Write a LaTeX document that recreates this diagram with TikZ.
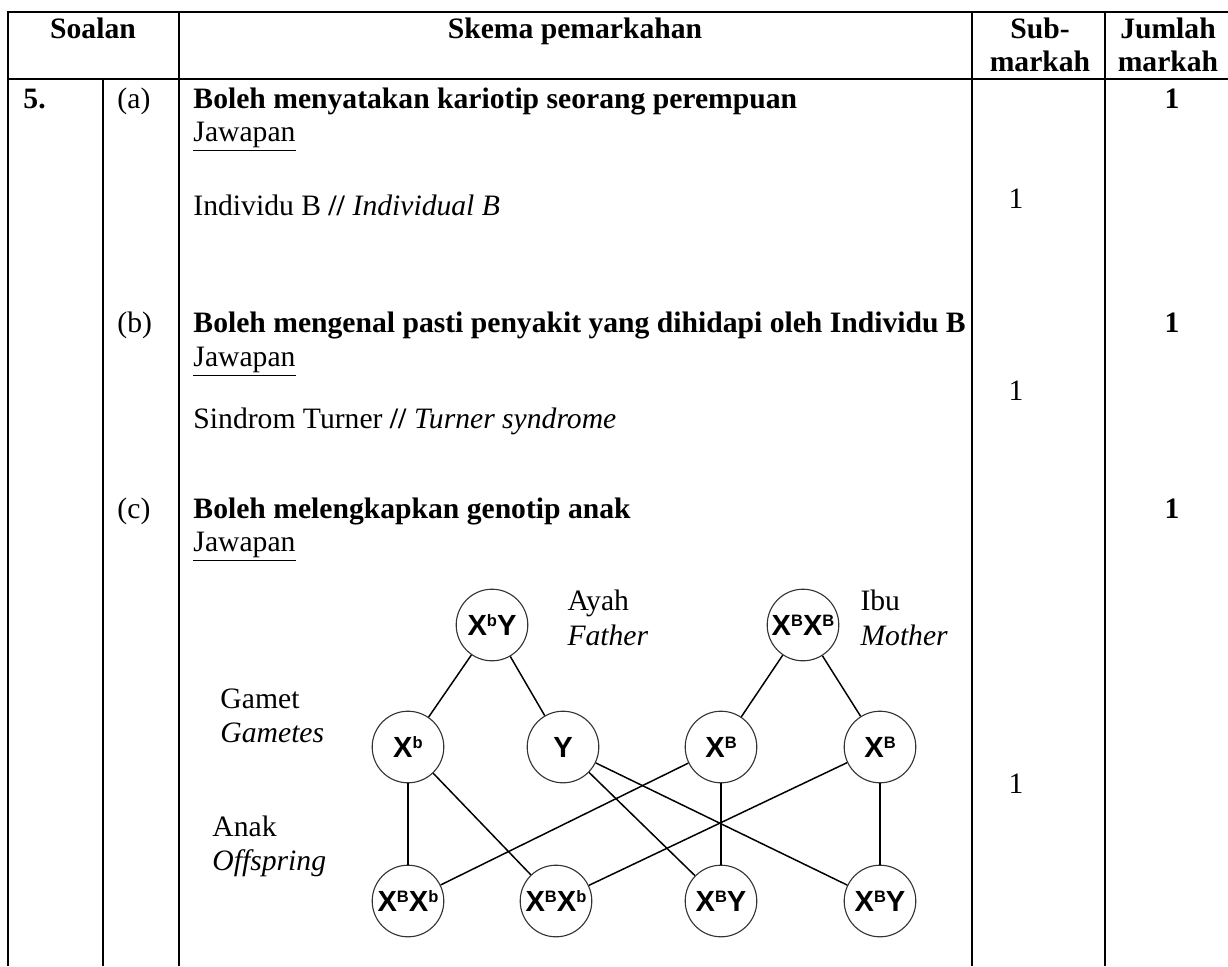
\documentclass[12pt,tikz,border=0pt]{standalone}
\usepackage{fontspec}
\setmainfont{Liberation Serif}
\newfontfamily\genofont{Liberation Sans}
\newcommand\gsup[1]{\raisebox{3.6pt}{\fontsize{6.7}{7}\selectfont #1}}
\tikzset{
  gene/.style={draw=black!80,circle,line width=0.45pt,minimum size=29pt,inner sep=0pt,
    font={\genofont\bfseries\fontsize{11.8}{12}\selectfont}},
  link/.style={draw=black,line width=0.6pt},
  rule/.style={line width=1pt},
  lbl/.style={anchor=base west,inner sep=0pt},
  mid/.style={anchor=base,inner sep=0pt},
}
\begin{document}
\begin{tikzpicture}[x=0.405pt,y=-0.405pt]
\useasboundingbox (0,0) rectangle (1228,966);
%% table frame
\draw [rule] (8,966) -- (8,12) -- (1228,12);
\draw [rule] (8,79) -- (1228,79);
\draw [rule] (103,79) -- (103,966);
\draw [rule] (179,12) -- (179,966);
\draw [rule] (972,12) -- (972,966);
\draw [rule] (1105,12) -- (1105,966);
%% header
\node (h_soalan) at (93,38) [mid,font=\bfseries] {Soalan};
\node (h_skema) at (575,38) [mid,font=\bfseries] {Skema pemarkahan};
\node (h_sub) at (1040,38) [mid,font=\bfseries] {Sub-};
\node (h_sub2) at (1040,71) [mid,font=\bfseries] {markah};
\node (h_jum) at (1168,38) [mid,font=\bfseries] {Jumlah};
\node (h_jum2) at (1168,71) [mid,font=\bfseries] {markah};
%% part a
\node (q5) at (23,108) [lbl,font=\bfseries] {5.};
\node (qa) at (117,108) [lbl] {(a)};
\node (qa_title) at (193,108) [lbl,font=\bfseries] {Boleh menyatakan kariotip seorang perempuan};
\node (qa_jaw) at (193,141) [lbl] {\underline{Jawapan}};
\node (qa_ans) at (193,215) [lbl] {Individu B \textbf{//} \textit{Individual B}};
\node (qa_sub) at (1016,208) [mid] {1};
\node (qa_tot) at (1172,108) [mid,font=\bfseries] {1};
%% part b
\node (qb) at (117,332) [lbl] {(b)};
\node (qb_title) at (193,332) [lbl,font=\bfseries] {Boleh mengenal pasti penyakit yang dihidapi oleh Individu B};
\node (qb_jaw) at (193,366) [lbl] {\underline{Jawapan}};
\node (qb_ans) at (193,428) [lbl] {Sindrom Turner \textbf{//} \textit{Turner syndrome}};
\node (qb_sub) at (1016,400) [mid] {1};
\node (qb_tot) at (1172,332) [mid,font=\bfseries] {1};
%% part c
\node (qc) at (117,518) [lbl] {(c)};
\node (qc_title) at (193,518) [lbl,font=\bfseries] {Boleh melengkapkan genotip anak};
\node (qc_jaw) at (193,551) [lbl] {\underline{Jawapan}};
\node (qc_sub) at (1016,793) [mid] {1};
\node (qc_tot) at (1172,518) [mid,font=\bfseries] {1};
%% cross
\node (father) at (492,625) [gene] {X\gsup{b}Y};
\node (mother) at (803,625) [gene] {X\gsup{B}X\gsup{B}};
\node (gam_xb) at (408,747) [gene] {X\gsup{b}};
\node (gam_y) at (563,747) [gene] {Y};
\node (gam_xB1) at (721,747) [gene] {X\gsup{B}};
\node (gam_xB2) at (880,747) [gene] {X\gsup{B}};
\node (off_1) at (408,901) [gene] {X\gsup{B}X\gsup{b}};
\node (off_2) at (556,901) [gene] {X\gsup{B}X\gsup{b}};
\node (off_3) at (721,901) [gene] {X\gsup{B}Y};
\node (off_4) at (880,901) [gene] {X\gsup{B}Y};
\node (ayah) at (567,610) [lbl] {Ayah};
\node (father_en) at (567,645) [lbl,font=\itshape] {Father};
\node (ibu) at (860,610) [lbl] {Ibu};
\node (mother_en) at (860,645) [lbl,font=\itshape] {Mother};
\node (gamet) at (220,708) [lbl] {Gamet};
\node (gamet_en) at (220,742) [lbl,font=\itshape] {Gametes};
\node (anak) at (212,836) [lbl] {Anak};
\node (anak_en) at (212,870) [lbl,font=\itshape] {Offspring};
\draw [link] (father) -- (gam_xb);
\draw [link] (father) -- (gam_y);
\draw [link] (mother) -- (gam_xB1);
\draw [link] (mother) -- (gam_xB2);
\draw [link] (gam_xb) -- (off_1);
\draw [link] (gam_xb) -- (off_2);
\draw [link] (gam_y) -- (off_3);
\draw [link] (gam_y) -- (off_4);
\draw [link] (gam_xB1) -- (off_1);
\draw [link] (gam_xB1) -- (off_3);
\draw [link] (gam_xB2) -- (off_2);
\draw [link] (gam_xB2) -- (off_4);
%
\end{tikzpicture}
\end{document}
